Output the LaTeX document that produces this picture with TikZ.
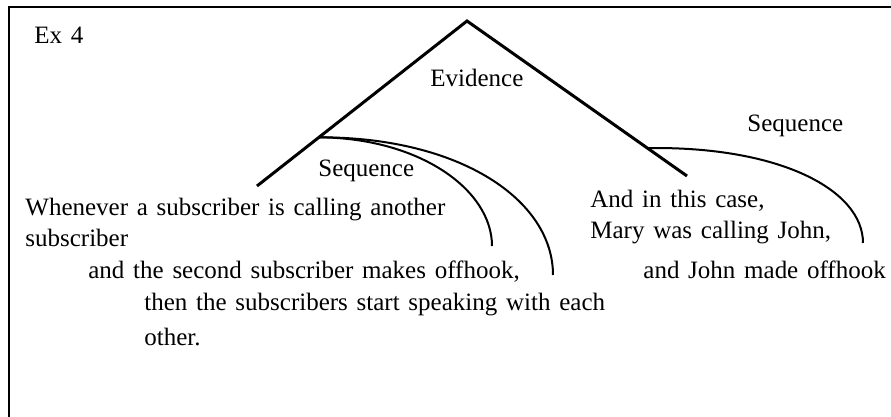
\documentclass[tikz,border=0pt]{standalone}
\usepackage{fontspec}
\setmainfont{Liberation Serif}[WordSpace=1.4]
\usetikzlibrary{positioning,calc}

\begin{document}
\begin{tikzpicture}[x=0.5pt,y=-0.5pt,
  every node/.style={font=\fontsize{12.5}{15.5}\selectfont,inner sep=0pt,align=left},
  txt/.style={anchor=base west},
  branch/.style={line width=1.5pt},
  arc/.style={line width=1pt}]
  \useasboundingbox (0,0) rectangle (891,417);
  % frame, open to the right and below
  \draw[line width=1.2pt] (9,417) -- (9,7) -- (891,7);
  \node[txt] (ex) at (34,44) {Ex 4};

  % evidence tree
  \coordinate (top) at (467,21);
  \coordinate (nucl) at (257,186);
  \coordinate (sat) at (687,176);
  \draw[branch] (nucl) -- (top) -- (sat);
  \node[txt] (evid) at (430,87) {Evidence};

  % sequence arcs
  \coordinate (lsplit) at ($(top)!0.705!(nucl)$);
  \coordinate (rsplit) at ($(top)!0.82!(sat)$);
  \coordinate (arcone) at (492,246);
  \coordinate (arctwo) at (553,275);
  \coordinate (arcthree) at (863,243);
  \draw[arc] (lsplit) .. controls (420,138) and (492,190) .. (arcone);
  \draw[arc] (lsplit) .. controls (460,137) and (553,200) .. (arctwo);
  \draw[arc] (rsplit) .. controls (780,146) and (863,190) .. (arcthree);
  \node[txt] (lseq) at (318,177) {Sequence};
  \node[txt] (rseq) at (747,132) {Sequence};

  % texts (base = last line)
  \node[txt] (whenever) at (25,247) {Whenever a subscriber is calling another\\subscriber};
  \node[txt] (second) at (88,279) {and the second subscriber makes offhook,};
  \node[txt] (speak) at (144,346) {then the subscribers start speaking with each\\[2pt]other.};
  \node[txt] (incase) at (590,239) {And in this case,\\Mary was calling John,};
  \node[txt] (john) at (643,279) {and John made offhook};
\end{tikzpicture}
\end{document}
